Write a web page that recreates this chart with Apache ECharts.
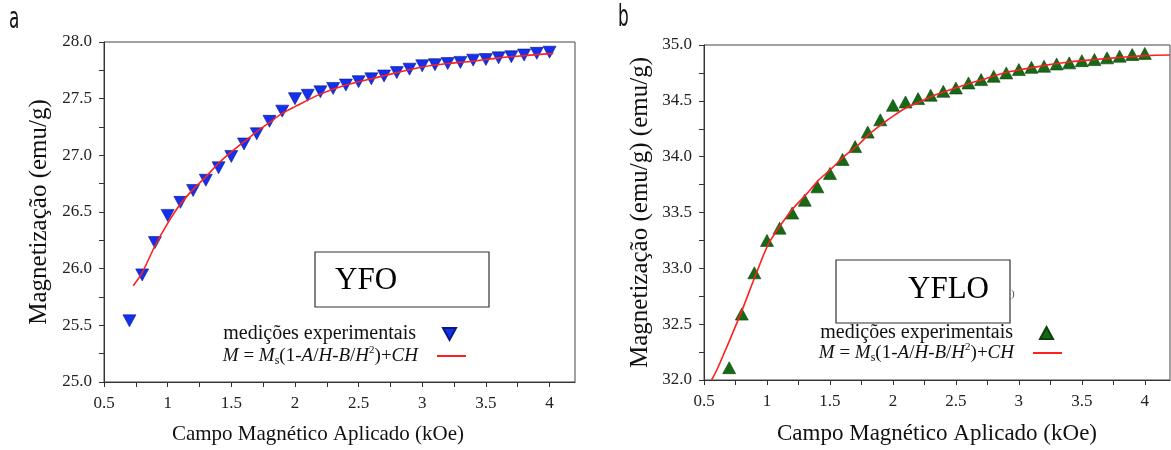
<!DOCTYPE html>
<html>
<head>
<meta charset="utf-8">
<script src="https://cdn.jsdelivr.net/npm/echarts@6/dist/echarts.min.js"></script>
<style>html,body{margin:0;padding:0;background:#fff}#c{width:1171px;height:450px}</style>
</head>
<body>
<div id="c"></div>
<script>
// ---- data ----
const fieldH = [0.7,0.8,0.9,1.0,1.1,1.2,1.3,1.4,1.5,1.6,1.7,1.8,1.9,2.0,2.1,2.2,2.3,2.4,2.5,2.6,2.7,2.8,2.9,3.0,3.1,3.2,3.3,3.4,3.5,3.6,3.7,3.8,3.9,4.0];
const magYFO = [25.54,25.945,26.23,26.47,26.585,26.69,26.78,26.89,26.99,27.10,27.19,27.30,27.39,27.50,27.53,27.56,27.59,27.62,27.65,27.675,27.70,27.73,27.76,27.79,27.80,27.81,27.82,27.84,27.845,27.86,27.87,27.885,27.90,27.91];
const magYFLO = [32.11,32.59,32.96,33.25,33.36,33.495,33.61,33.73,33.85,33.975,34.09,34.22,34.33,34.46,34.49,34.52,34.55,34.585,34.615,34.66,34.69,34.72,34.75,34.78,34.80,34.81,34.83,34.84,34.86,34.87,34.885,34.90,34.915,34.925];
const fitH_YFO = [0.73,0.8,0.9,1.0,1.1,1.2,1.3,1.4,1.5,1.6,1.7,1.8,1.9,2.0,2.2,2.4,2.6,2.8,3.0,3.2,3.4,3.6,3.8,4.03];
const fitM_YFO = [25.85,25.965,26.2,26.40,26.57,26.70,26.81,26.93,27.03,27.12,27.21,27.29,27.37,27.43,27.54,27.62,27.675,27.73,27.78,27.81,27.83,27.86,27.88,27.90];
const fitH_YFLO = [0.56,0.61,0.79,0.91,1.01,1.11,1.21,1.31,1.41,1.51,1.61,1.72,1.81,1.91,2.01,2.11,2.21,2.31,2.42,2.51,2.62,2.71,2.82,2.92,3.02,3.22,3.41,3.61,3.82,4.01,4.2];
const fitM_YFLO = [32.0,32.11,32.59,32.94,33.215,33.39,33.54,33.66,33.79,33.89,34.0,34.10,34.20,34.29,34.37,34.44,34.49,34.54,34.585,34.62,34.66,34.69,34.73,34.76,34.78,34.82,34.85,34.87,34.89,34.905,34.91];
const xTickVals = [0.5,0.75,1,1.25,1.5,1.75,2,2.25,2.5,2.75,3,3.25,3.5,3.75,4];
const xLabelVals = [0.5,1,1.5,2,2.5,3,3.5,4];
const yTickValsA = [25,25.25,25.5,25.75,26,26.25,26.5,26.75,27,27.25,27.5,27.75,28];
const yLabelValsA = [25,25.5,26,26.5,27,27.5,28];
const yTickValsB = [32,32.25,32.5,32.75,33,33.25,33.5,33.75,34,34.25,34.5,34.75,35];
const yLabelValsB = [32,32.5,33,33.5,34,34.5,35];
const xTitle = 'Campo Magnético Aplicado (kOe)';
const yTitleA = 'Magnetização (emu/g)';
const yTitleB = 'Magnetização (emu/g) (emu/g)';
const expLabel = 'medições experimentais';
const fitLabel = '{i|M} = {i|M}{s|s}(1-{i|A}/{i|H}-{i|B}/{i|H}{p|2})+{i|CH}';

const zip = (a, b) => a.map((v, i) => [v, b[i]]);
const SERIF = 'Liberation Serif';

function xAxis(gi, titleSize, padRight, nameGap) {
  return {
    type: 'value', gridIndex: gi, min: 0.5, max: 4.2,
    name: xTitle, nameLocation: 'middle', nameGap: nameGap,
    nameTextStyle: {fontFamily: SERIF, fontSize: titleSize, color: '#111', padding: [0, padRight, 0, 0]},
    axisLine: {show: true, onZero: false, lineStyle: {color: '#333', width: 1}},
    axisTick: {show: true, inside: false, length: 5, customValues: xTickVals, lineStyle: {color: '#333'}},
    axisLabel: {customValues: xLabelVals, margin: 13, fontFamily: SERIF, fontSize: 17, color: '#222',
      formatter: v => String(v)},
    splitLine: {show: false}
  };
}
function yAxis(gi, mn, mx, ticks, labels, title, titleSize, nameGap) {
  return {
    type: 'value', gridIndex: gi, min: mn, max: mx,
    name: title, nameLocation: 'middle', nameGap: nameGap, nameRotate: 90,
    nameTextStyle: {fontFamily: SERIF, fontSize: titleSize, color: '#111'},
    axisLine: {show: true, onZero: false, lineStyle: {color: '#333', width: 1}},
    axisTick: {show: true, inside: false, length: 5, customValues: ticks, lineStyle: {color: '#333'}},
    axisLabel: {customValues: labels, margin: 12, fontFamily: SERIF, fontSize: 17, color: '#222',
      formatter: v => v.toFixed(1)},
    splitLine: {show: false}
  };
}
const richFit = {
  i: {fontStyle: 'italic', fontFamily: SERIF, fontSize: 19, color: '#111'},
  s: {fontFamily: SERIF, fontSize: 12, color: '#111', verticalAlign: 'bottom', padding: [8, 0, 0, 0]},
  p: {fontFamily: SERIF, fontSize: 11, color: '#111', verticalAlign: 'top', padding: [0, 0, 8, 0]}
};
const triDown = 'path://M0,0L12,0L6,11Z';
const triUp = 'path://M6,0L12,11L0,11Z';
function legend(right, top, name, icon, iw, ih, padR, fs) {
  return {
    orient: 'vertical', align: 'right', right: right, top: top, itemGap: 0, padding: 0,
    itemWidth: iw, itemHeight: ih, data: [{name: name, icon: icon}], selectedMode: false,
    formatter: n => n.startsWith('exp') ? expLabel : fitLabel,
    textStyle: {fontFamily: SERIF, fontSize: fs, color: '#111', lineHeight: 22, padding: [0, padR, 0, 0], rich: richFit}
  };
}

const option = {
  backgroundColor: '#fff',
  animation: false,
  grid: [
    {left: 104, right: 596, top: 42, bottom: 65, show: true, borderColor: '#444', borderWidth: 1},
    {left: 704, right: 1, top: 45, bottom: 66, show: true, borderColor: '#444', borderWidth: 1}
  ],
  xAxis: [xAxis(0, 21, 43, 42), xAxis(1, 23, 0, 42)],
  yAxis: [
    yAxis(0, 25, 28, yTickValsA, yLabelValsA, yTitleA, 25, 52),
    yAxis(1, 32, 35, yTickValsB, yLabelValsB, yTitleB, 25, 51)
  ],
  legend: [
    legend(714, 323, 'expA', triDown, 13, 12, 22, 20),
    legend(705, 345, 'fitA', 'rect', 29, 2, 14, 19),
    legend(117, 322, 'expB', triUp, 13, 12, 22, 20),
    legend(109, 342, 'fitB', 'rect', 29, 2, 14, 19)
  ],
  series: [
    {name: 'fitA', type: 'line', xAxisIndex: 0, yAxisIndex: 0, data: zip(fitH_YFO, fitM_YFO),
      smooth: 0.3, symbol: 'none', showSymbol: false, lineStyle: {color: '#ff1f1f', width: 1.6}, itemStyle: {color: '#ff1f1f'}},
    {name: 'expA', type: 'scatter', xAxisIndex: 0, yAxisIndex: 0, data: zip(fieldH, magYFO),
      symbol: 'triangle', symbolRotate: 180, symbolSize: [13, 12],
      itemStyle: {color: '#1230ee', opacity: 1, borderColor: '#0a1a80', borderWidth: 0.6}},
    {name: 'fitB', type: 'line', xAxisIndex: 1, yAxisIndex: 1, data: zip(fitH_YFLO, fitM_YFLO),
      smooth: 0.3, symbol: 'none', showSymbol: false, lineStyle: {color: '#ff1f1f', width: 1.6}, itemStyle: {color: '#ff1f1f'}},
    {name: 'expB', type: 'scatter', xAxisIndex: 1, yAxisIndex: 1, data: zip(fieldH, magYFLO),
      symbol: 'triangle', symbolSize: [13, 12],
      itemStyle: {color: '#156a15', opacity: 1, borderColor: '#0c400c', borderWidth: 0.6}}
  ],
  graphic: [
    {type: 'rect', shape: {x: 315, y: 252, width: 174, height: 55}, style: {fill: '#fff', stroke: '#333', lineWidth: 1.2}, z: 10},
    {type: 'text', x: 335, y: 281, style: {text: 'YFO', fontFamily: SERIF, fontSize: 31, fill: '#000', verticalAlign: 'middle'}, z: 11},
    {type: 'rect', shape: {x: 836, y: 260, width: 174, height: 63}, style: {fill: '#fff', stroke: '#333', lineWidth: 1.2}, z: 10},
    {type: 'text', x: 908, y: 290, style: {text: 'YFLO', fontFamily: SERIF, fontSize: 31, fill: '#000', verticalAlign: 'middle'}, z: 11},
    {type: 'text', x: 1011, y: 294, style: {text: ')', fontFamily: SERIF, fontSize: 11, fill: '#555', verticalAlign: 'middle'}, z: 11},
    {type: 'text', x: 9, y: 20, scaleX: 0.65, scaleY: 1.15, style: {text: 'a', fontFamily: 'DejaVu Sans', fontSize: 26, fill: '#111', verticalAlign: 'middle'}},
    {type: 'text', x: 618, y: 18, scaleX: 0.65, scaleY: 1.15, style: {text: 'b', fontFamily: 'DejaVu Sans', fontSize: 26, fill: '#111', verticalAlign: 'middle'}}
  ]
};
const chart = echarts.init(document.getElementById('c'), null, {renderer: 'canvas'});
chart.setOption(option);
</script>
</body>
</html>
